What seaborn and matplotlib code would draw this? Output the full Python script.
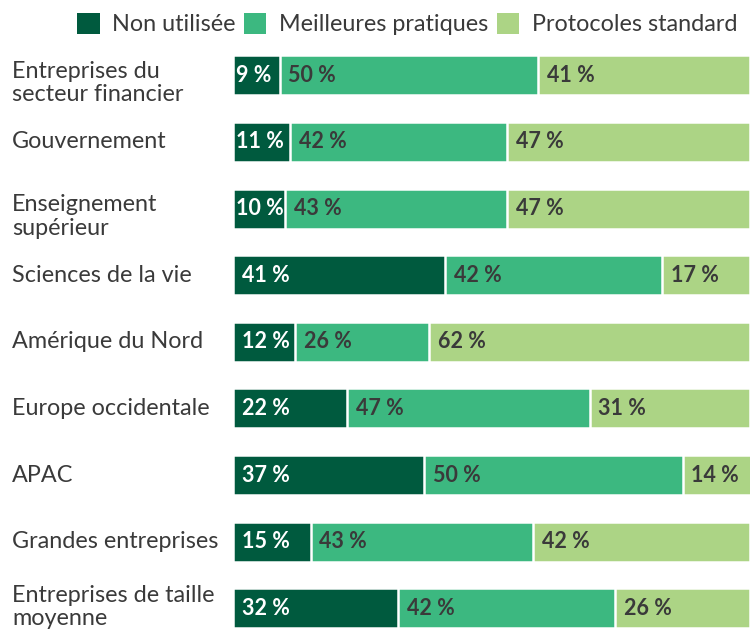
import numpy as np
import pandas as pd
import matplotlib
matplotlib.use("Agg")
import matplotlib.pyplot as plt
import matplotlib.transforms as mtransforms
from matplotlib.patches import Patch
import seaborn as sns

categories = [
    "Entreprises du\nsecteur financier",
    "Gouvernement",
    "Enseignement\nsupérieur",
    "Sciences de la vie",
    "Amérique du Nord",
    "Europe occidentale",
    "APAC",
    "Grandes entreprises",
    "Entreprises de taille\nmoyenne",
]
non_utilisee = [9, 11, 10, 41, 12, 22, 37, 15, 32]
meilleures = [50, 42, 43, 42, 26, 47, 50, 43, 42]
protocoles = [41, 47, 47, 17, 62, 31, 14, 42, 26]
series_names = ["Non utilisée", "Meilleures pratiques", "Protocoles standard"]
colors = ["#005a3e", "#3cb880", "#acd485"]
text_colors = ["white", "#3a3a3a", "#3a3a3a"]

df = pd.DataFrame({
    "cat": categories,
    "s0": non_utilisee,
    "s1": meilleures,
    "s2": protocoles,
})
df["c1"] = df["s0"] + df["s1"]
df["c2"] = df["c1"] + df["s2"]

sns.set_style("white")
plt.rcParams["font.family"] = ["Lato", "DejaVu Sans"]

fig = plt.figure(figsize=(7.52, 6.35), dpi=100)
ax = fig.add_axes([0.31, 0.0, 0.687, 0.934])

# draw stacked bars: widest (cumulative) first
for col, c in zip(["c2", "c1", "s0"], colors[::-1]):
    sns.barplot(data=df, x=col, y="cat", orient="h", color=c, width=0.6,
                saturation=1, edgecolor="white", linewidth=1.8, ax=ax,
                order=categories)

ax.set_xlim(0, 100)
ax.set_ylim(8.4, -0.5)
ax.set_xlabel("")
ax.set_ylabel("")
ax.set_xticks([])
ax.set_yticks([])
sns.despine(ax=ax, left=True, bottom=True)

# value labels
starts = [np.zeros(len(df)), df["s0"].values, df["c1"].values]
vals = [df["s0"].values, df["s1"].values, df["s2"].values]
for k in range(3):
    for i in range(len(df)):
        off = 0.6 if vals[k][i] < 12 else 1.7
        ax.text(starts[k][i] + off, i, f"{vals[k][i]} %", ha="left", va="center",
                fontsize=15.5, fontweight="bold", color=text_colors[k])

# category labels, left aligned
trans = mtransforms.blended_transform_factory(fig.transFigure, ax.transData)
n = len(categories)
for i, cat in enumerate(categories):
    if "\n" in cat:
        dy = 0.12 if i < n - 1 else -0.02   # last one has to stay inside the figure
    else:
        dy = 0.0
    ax.text(12 / 752, i + dy, cat, transform=trans, ha="left", va="center",
            fontsize=16.8, color="#3a3a3a", linespacing=1.12)

handles = [Patch(facecolor=c, edgecolor="none") for c in colors]
fig.legend(handles, series_names, loc="upper right", bbox_to_anchor=(1.008, 1.012),
           ncol=3, frameon=False, fontsize=16.8, handlelength=0.95, handleheight=0.95,
           handletextpad=0.55, columnspacing=0.35, labelcolor="#3a3a3a")

fig.savefig("out.png", dpi=100)
